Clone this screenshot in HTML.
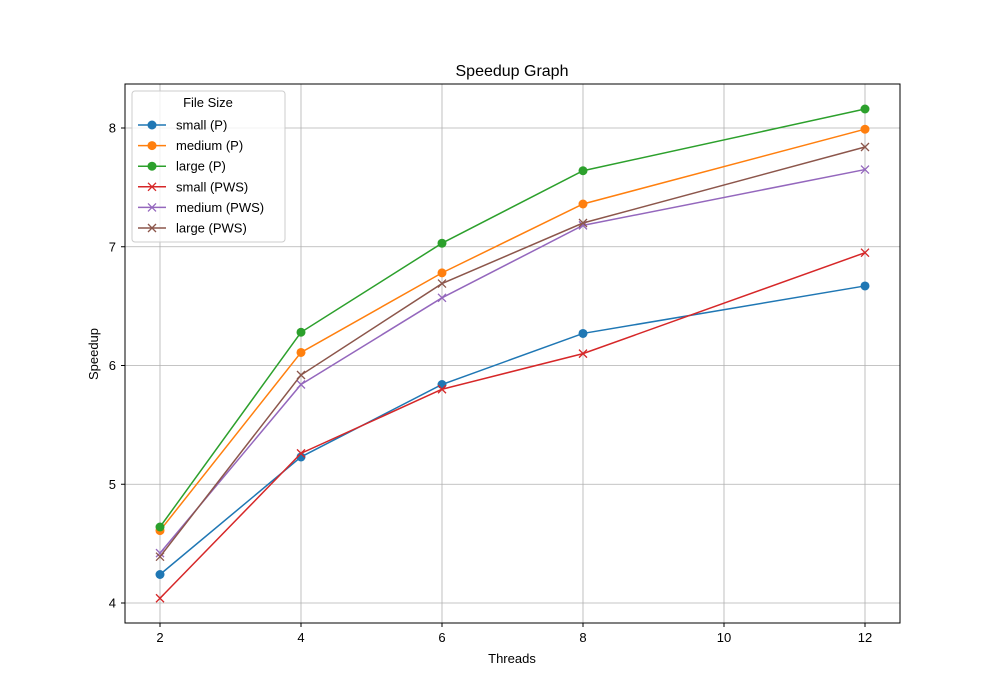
<!DOCTYPE html>
<html><head><meta charset="utf-8">
<style>body{margin:0;background:#fff}svg{display:block;font-family:"Liberation Sans","DejaVu Sans",sans-serif}</style>
</head><body>
<svg id="chart" width="1000" height="700" xmlns="http://www.w3.org/2000/svg">
<rect width="1000" height="700" fill="#fff"/>
<g id="grid"></g>
<g id="series"></g>
<rect x="125" y="84" width="775" height="539" fill="none" stroke="#000" stroke-width="1"/>
<g id="axes"></g>
<text x="512" y="76" text-anchor="middle" font-size="16">Speedup Graph</text>
<text x="512" y="663" text-anchor="middle" font-size="13">Threads</text>
<text x="98" y="354" text-anchor="middle" font-size="13" transform="rotate(-90 98 354)">Speedup</text>
<g id="legend"></g>
</svg>
<script>
const threads=[2,4,6,8,12];
const smallP=[4.24,5.23,5.84,6.27,6.67];
const mediumP=[4.61,6.11,6.78,7.36,7.99];
const largeP=[4.64,6.28,7.03,7.64,8.16];
const smallPWS=[4.04,5.26,5.80,6.10,6.95];
const mediumPWS=[4.42,5.84,6.57,7.18,7.65];
const largePWS=[4.39,5.92,6.69,7.20,7.84];
const xTicks=[2,4,6,8,10,12];
const yTicks=[4,5,6,7,8];
const seriesNames=["small (P)","medium (P)","large (P)","small (PWS)","medium (PWS)","large (PWS)"];
const NS="http://www.w3.org/2000/svg";
const sx=v=>160+(v-2)*70.5;
const sy=v=>603-(v-4)*118.75;
function mk(tag,attrs,parent){const e=document.createElementNS(NS,tag);for(const k in attrs)e.setAttribute(k,attrs[k]);parent.appendChild(e);return e;}
const grid=document.getElementById('grid'),axes=document.getElementById('axes'),ser=document.getElementById('series'),leg=document.getElementById('legend');
xTicks.forEach(t=>{const x=sx(t);
 let g=mk('line',{x1:x,x2:x,y1:84,y2:623,stroke:'#b0b0b0','stroke-width':0.8},grid);
 
 mk('line',{x1:x,x2:x,y1:623,y2:627,stroke:'#000'},axes);
 let tx=mk('text',{x:x,y:642,'text-anchor':'middle','font-size':13},axes);tx.textContent=t;
 });
yTicks.forEach(t=>{const y=sy(t);
 let g=mk('line',{x1:125,x2:900,y1:y,y2:y,stroke:'#b0b0b0','stroke-width':0.8},grid);
 
 mk('line',{x1:121,x2:125,y1:y,y2:y,stroke:'#000'},axes);
 let tx=mk('text',{x:116,y:y+4.5,'text-anchor':'end','font-size':13},axes);tx.textContent=t;
 });
const data=[smallP,mediumP,largeP,smallPWS,mediumPWS,largePWS];
const colors=['#1f77b4','#ff7f0e','#2ca02c','#d62728','#9467bd','#8c564b'];
function marker(x,y,i,p){
 if(i<3){const c=mk('circle',{cx:x,cy:y,r:4.5,fill:colors[i]},p);return c;}
 const g=mk('path',{d:`M${x-4},${y-4}L${x+4},${y+4}M${x-4},${y+4}L${x+4},${y-4}`,stroke:colors[i],'stroke-width':1.3,fill:'none'},p);return g;}
data.forEach((vals,i)=>{
 const g=mk('g',{},ser);
 
 
 mk('polyline',{points:vals.map((v,j)=>sx(threads[j])+','+sy(v)).join(' '),fill:'none',stroke:colors[i],'stroke-width':1.5},g);
 vals.forEach((v,j)=>{const m=marker(sx(threads[j]),sy(v),i,g);
  });
});
const box=mk('rect',{x:132,y:91,width:153,height:151,rx:3,fill:'#fff','fill-opacity':0.8,stroke:'#ccc'},leg);

const lt=mk('text',{x:208,y:107,'text-anchor':'middle','font-size':13},leg);lt.textContent='File Size';

seriesNames.forEach((n,i)=>{const y=125+i*20.6;
 const g=mk('g',{},leg);
 
 mk('line',{x1:138,x2:166,y1:y,y2:y,stroke:colors[i],'stroke-width':1.5},g);
 marker(152,y,i,g);
 const t=mk('text',{x:176,y:y+4.5,'font-size':13},g);t.textContent=n;});
</script>
</body></html>
